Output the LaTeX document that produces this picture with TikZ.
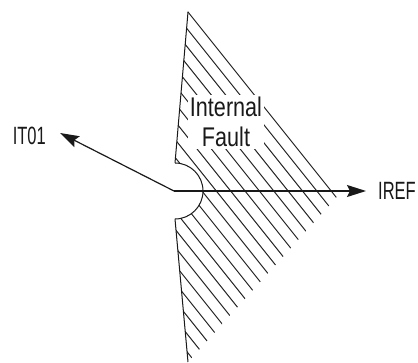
\documentclass[tikz,border=0pt]{standalone}
\usepackage{fontspec}
\setmainfont{Liberation Sans}
\newfontfamily\lblfont[FakeStretch=0.66]{Liberation Sans}
\newfontfamily\faultfont[FakeStretch=0.8]{Liberation Sans}
\usepackage{tikz}
\usetikzlibrary{arrows.meta,positioning}
\tikzset{
  lbl/.style={font=\lblfont\fontsize{25}{30}\selectfont, inner sep=0pt, text=black!90},
  faultlbl/.style={font=\faultfont\fontsize{27}{30}\selectfont, align=center, fill=white, inner sep=2pt, text=black!90},
  vec/.style={-{Stealth[length=19pt,width=12pt,inset=3pt]}, line width=1.2pt, black!90},
  hatch/.style={line width=1pt, black!85},
  rim/.style={line width=1pt, black!90}
}
\begin{document}
\begin{tikzpicture}[x=1pt,y=1pt]
\useasboundingbox (0,0) rectangle (418,362);
\coordinate (O) at (174,171);
\coordinate (top) at (188,350);
\coordinate (bot) at (188,0);
\coordinate (arcTop) at (175,199);
\coordinate (arcBot) at (175,143);
\coordinate (it01Tip) at (60,229);
\coordinate (irefTip) at (366,171);
% hatched region
\begin{scope}
  \clip (188,352.5) -- (337.4,165.8) -- (bot) -- (arcBot)
        arc[start angle=-90,end angle=90,radius=28] -- (arcTop) -- cycle;
  \foreach \k in {0,...,19}
    \draw[hatch] (150,{397.5-\k*17.95}) -- ++(250,-312.5);
\end{scope}
\node[faultlbl] (fault) at (226,240) {Internal\\Fault};
% boundary
\draw[rim] (top) -- (arcTop);
\draw[rim] (arcBot) arc[start angle=-90,end angle=90,radius=28];
\draw[rim] (arcBot) -- (bot);
% vectors
\draw[vec] (O) -- (it01Tip);
\draw[vec] (O) -- (irefTip);
\node[lbl, left=14pt of it01Tip, yshift=-3pt] (it01) {IT01};
\node[lbl, right=12pt of irefTip] (iref) {IREF};
\end{tikzpicture}
\end{document}
